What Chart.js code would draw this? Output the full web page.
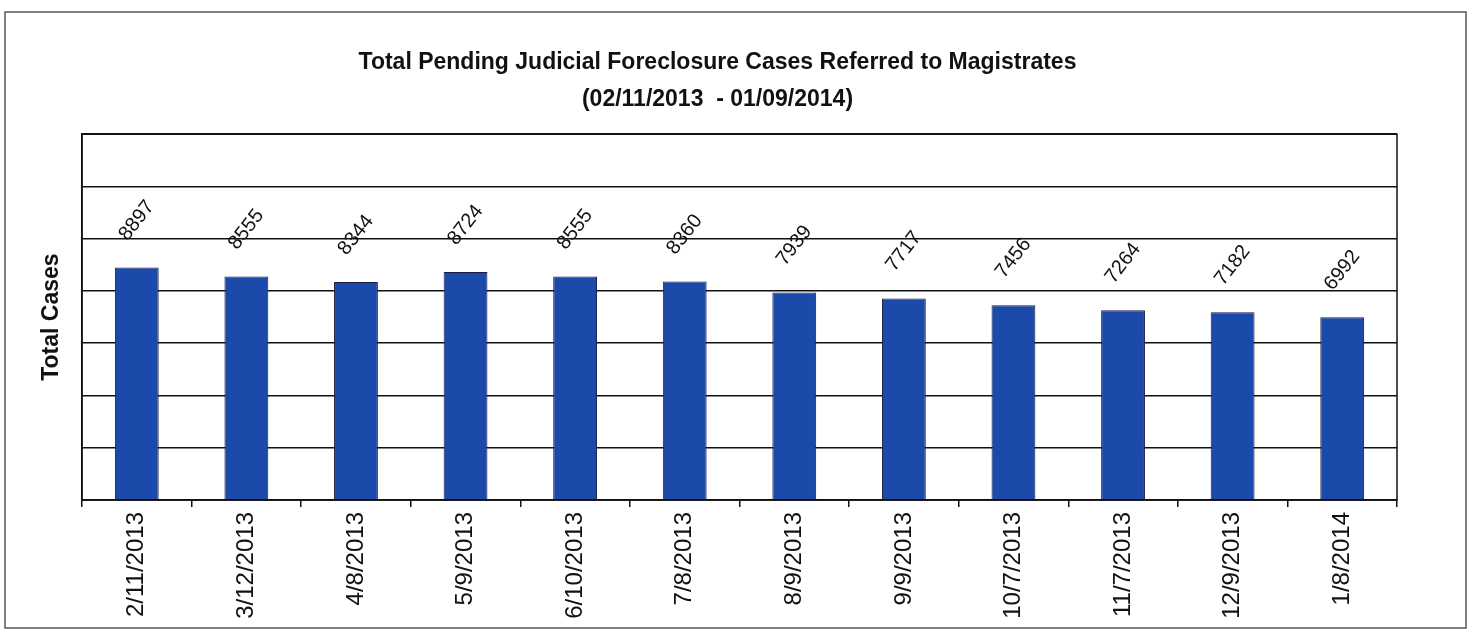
<!DOCTYPE html>
<html>
<head>
<meta charset="utf-8">
<script src="https://cdn.jsdelivr.net/npm/chart.js@4.4.1/dist/chart.umd.min.js"></script>
<style>
  html, body { margin: 0; padding: 0; background: #fff; }
  #wrap { position: relative; width: 1469px; height: 633px; }
</style>
</head>
<body>
<div id="wrap"><canvas id="chart" width="1469" height="633"></canvas></div>
<script>
// data
const dates = ['2/11/2013', '3/12/2013', '4/8/2013', '5/9/2013', '6/10/2013', '7/8/2013',
               '8/9/2013', '9/9/2013', '10/7/2013', '11/7/2013', '12/9/2013', '1/8/2014'];
const totalCases = [8897, 8555, 8344, 8724, 8555, 8360, 7939, 7717, 7456, 7264, 7182, 6992];
const yMax = 14000;
const yStep = 2000;

// outer frame + plot box
const framePlugin = {
    id: 'frame',
    beforeDraw(chart) {
        const ctx = chart.ctx;
        ctx.save();
        ctx.strokeStyle = '#555';
        ctx.lineWidth = 1.5;
        ctx.strokeRect(5, 12, 1461, 616);
        ctx.restore();
    },
    afterDatasetsDraw(chart) {
        const a = chart.chartArea;
        const ctx = chart.ctx;
        ctx.save();
        ctx.strokeStyle = '#111';
        ctx.lineWidth = 1.5;
        ctx.strokeRect(a.left, a.top, a.right - a.left, a.bottom - a.top);
        ctx.restore();
    }
};

// slanted value labels above each bar
const valueLabels = {
    id: 'valueLabels',
    afterDatasetsDraw(chart) {
        const ctx = chart.ctx;
        const meta = chart.getDatasetMeta(0);
        ctx.save();
        ctx.font = '20px "Liberation Sans", Arial, sans-serif';
        ctx.fillStyle = '#111';
        ctx.textAlign = 'center';
        ctx.textBaseline = 'middle';
        meta.data.forEach((bar, i) => {
            ctx.save();
            ctx.translate(bar.x, bar.y - 47);
            ctx.rotate(-52 * Math.PI / 180);
            ctx.fillText(String(totalCases[i]), 0, 0);
            ctx.restore();
        });
        ctx.restore();
    }
};

new Chart(document.getElementById('chart'), {
    type: 'bar',
    data: {
        labels: dates,
        datasets: [{
            label: 'Total Cases',
            data: totalCases,
            backgroundColor: '#1c4aaa',
            borderColor: '#1a1a40',
            borderWidth: 1,
            barPercentage: 0.4,
            categoryPercentage: 1.0
        }]
    },
    options: {
        responsive: false,
        animation: false,
        layout: { padding: { left: 38, right: 72, top: 0, bottom: 0 } },
        plugins: {
            legend: { display: false },
            tooltip: { enabled: false },
            title: {
                display: true,
                text: ['Total Pending Judicial Foreclosure Cases Referred to Magistrates',
                       '(02/11/2013  - 01/09/2014)'],
                color: '#111',
                font: { family: '"Liberation Sans Narrow", "Arial Narrow", "Liberation Sans", sans-serif',
                        size: 23, weight: 'bold', lineHeight: 1.57 },
                padding: { top: 45, bottom: 17 }
            }
        },
        scales: {
            x: {
                offset: true,
                grid: { display: true, offset: true, drawOnChartArea: false, color: '#111', tickLength: 7, lineWidth: 1.5 },
                border: { display: true, color: '#111', width: 1.5 },
                ticks: {
                    color: '#111',
                    maxRotation: 90, minRotation: 90,
                    padding: 5,
                    font: { family: '"Liberation Sans", Arial, sans-serif', size: 24 }
                },
                afterFit(s) { s.height = 133; }
            },
            y: {
                min: 0, max: yMax,
                ticks: { stepSize: yStep, display: false },
                grid: { color: '#111', lineWidth: 1.5, drawTicks: false },
                border: { display: true, color: '#111', width: 1.5 },
                title: {
                    display: true,
                    text: 'Total Cases',
                    color: '#111',
                    padding: 0,
                    font: { family: '"Liberation Sans", Arial, sans-serif', size: 23, weight: 'bold' }
                },
                afterFit(s) { s.width = 44; }
            }
        }
    },
    plugins: [framePlugin, valueLabels]
});
</script>
</body>
</html>
